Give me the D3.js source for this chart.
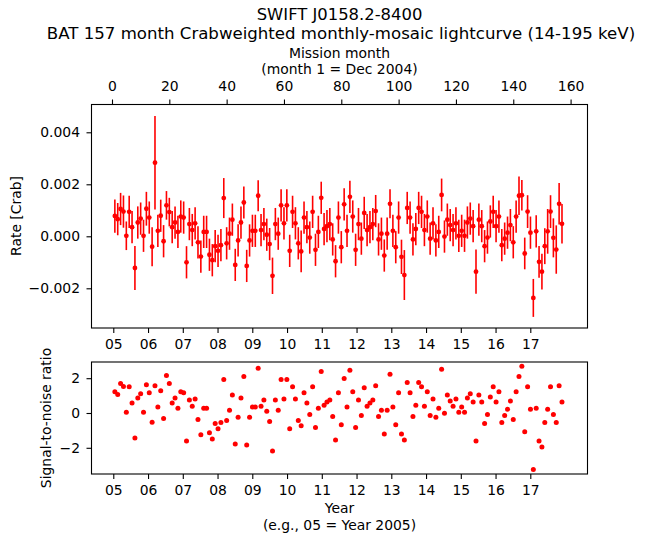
<!DOCTYPE html>
<html><head><meta charset="utf-8">
<script src="https://cdn.jsdelivr.net/npm/d3@7"></script>
<style>html,body{margin:0;padding:0;background:#fff;} svg{display:block;font-family:"DejaVu Sans",sans-serif;}</style>
</head><body>
<script>
const months = d3.range(1, 158);
const rates = [0.00078,0.00066,0.00105,0.00095,0.00002,0.00094,0.00035,-0.00122,0.00053,0.00068,
0.00002,0.00106,0.00072,-0.00040,0.00283,0.00021,0.00079,-0.00019,0.00119,0.00093,
0.00035,0.00053,0.00017,0.00076,0.00072,-0.00100,0.00047,0.00024,0.00050,-0.00023,
-0.00078,0.00017,0.00017,-0.00071,-0.00092,-0.00038,-0.00056,-0.00034,0.00147,-0.00027,
0.00010,0.00064,-0.00110,-0.00016,0.00053,0.00130,-0.00114,-0.00016,0.00021,0.00021,
0.00156,0.00024,0.00047,0.00006,-0.00030,-0.00152,0.00047,0.00010,0.00119,0.00050,
0.00119,-0.00056,0.00094,0.00050,-0.00027,-0.00058,0.00072,0.00035,-0.00005,0.00094,
-0.00052,0.00017,0.00148,0.00028,0.00039,0.00047,-0.00012,-0.00096,0.00072,-0.00042,
0.00123,0.00021,0.00152,0.00076,-0.00052,0.00047,-0.00009,0.00090,0.00024,0.00035,
0.00047,0.00097,-0.00012,0.00010,-0.00074,0.00010,0.00125,0.00021,-0.00042,0.00072,
-0.00079,-0.00149,0.00109,0.00072,-0.00012,0.00028,0.00109,0.00094,0.00024,0.00076,
-0.00009,0.00050,-0.00016,0.00017,0.00159,-0.00001,0.00064,0.00043,0.00024,0.00050,
0.00002,0.00021,0.00002,0.00053,0.00068,0.00039,-0.00136,0.00064,0.00039,-0.00038,
-0.00005,0.00057,0.00094,0.00039,0.00076,-0.00034,-0.00009,0.00014,0.00043,-0.00023,
0.00076,0.00156,0.00158,-0.00066,0.00095,0.00014,-0.00237,0.00019,-0.00098,-0.00136,
-0.00038,0.00019,0.00095,-0.00006,-0.00051,0.00125,0.00048];
const errors = [0.00064,0.00062,0.00062,0.00062,0.00055,0.00062,0.00062,0.00085,0.00062,0.00062,
0.00062,0.00065,0.00062,0.00075,0.00180,0.00062,0.00062,0.00062,0.00055,0.00055,
0.00062,0.00062,0.00062,0.00062,0.00062,0.00062,0.00062,0.00062,0.00062,0.00062,
0.00062,0.00062,0.00062,0.00062,0.00062,0.00062,0.00062,0.00062,0.00077,0.00062,
0.00062,0.00062,0.00062,0.00062,0.00062,0.00062,0.00062,0.00062,0.00062,0.00062,
0.00060,0.00062,0.00062,0.00062,0.00062,0.00070,0.00062,0.00062,0.00062,0.00062,
0.00062,0.00062,0.00062,0.00062,0.00062,0.00080,0.00062,0.00062,0.00062,0.00062,
0.00062,0.00062,0.00062,0.00062,0.00062,0.00062,0.00062,0.00062,0.00062,0.00062,
0.00062,0.00062,0.00062,0.00062,0.00062,0.00062,0.00062,0.00062,0.00062,0.00062,
0.00062,0.00062,0.00062,0.00062,0.00062,0.00062,0.00056,0.00062,0.00062,0.00062,
0.00066,0.00096,0.00062,0.00062,0.00062,0.00062,0.00062,0.00062,0.00062,0.00062,
0.00062,0.00062,0.00062,0.00062,0.00063,0.00062,0.00062,0.00062,0.00062,0.00062,
0.00062,0.00062,0.00062,0.00062,0.00062,0.00062,0.00085,0.00062,0.00062,0.00062,
0.00062,0.00062,0.00062,0.00062,0.00062,0.00062,0.00062,0.00062,0.00062,0.00062,
0.00062,0.00074,0.00059,0.00061,0.00063,0.00062,0.00073,0.00062,0.00061,0.00069,
0.00069,0.00086,0.00063,0.00075,0.00093,0.00080,0.00076];
const snr = [1.22,1.06,1.69,1.53,0.04,1.51,0.57,-1.43,0.86,1.10,
0.04,1.63,1.16,-0.53,1.57,0.34,1.28,-0.31,2.16,1.69,
0.57,0.86,0.28,1.22,1.16,-1.61,0.75,0.39,0.81,-0.37,
-1.25,0.28,0.28,-1.14,-1.49,-0.61,-0.90,-0.55,1.92,-0.43,
0.16,1.04,-1.78,-0.25,0.86,2.10,-1.84,-0.25,0.34,0.34,
2.57,0.39,0.75,0.10,-0.49,-2.19,0.75,0.16,1.92,0.81,
1.92,-0.90,1.51,0.81,-0.43,-0.73,1.16,0.57,-0.08,1.51,
-0.84,0.28,2.39,0.45,0.63,0.75,-0.20,-1.55,1.16,-0.67,
1.98,0.34,2.45,1.22,-0.84,0.75,-0.14,1.45,0.39,0.57,
0.75,1.57,-0.20,0.16,-1.20,0.16,2.22,0.34,-0.67,1.16,
-1.20,-1.55,1.75,1.16,-0.20,0.45,1.75,1.51,0.39,1.22,
-0.14,0.81,-0.25,0.28,2.51,-0.02,1.04,0.69,0.39,0.81,
0.04,0.34,0.04,0.86,1.10,0.63,-1.61,1.04,0.63,-0.61,
-0.08,0.92,1.51,0.63,1.22,-0.55,-0.14,0.22,0.69,-0.37,
1.22,2.10,2.69,-1.08,1.51,0.22,-3.25,0.28,-1.61,-1.96,
-0.55,0.22,1.51,-0.08,-0.55,1.57,0.63];
const monthTicks = [0,20,40,60,80,100,120,140,160];
const yearTicks = [2005,2006,2007,2008,2009,2010,2011,2012,2013,2014,2015,2016,2017];
const rateTicks = [-0.002,0,0.002,0.004];
const snrTicks = [-2,0,2];

const W = 646, H = 543;
const L = 91.5, R = 587.5;
const svg = d3.select("body").append("svg").attr("width", W).attr("height", H);
const red = "#ff0000";

const xM = d3.scaleLinear().domain([-7.15, 165.9]).range([L, R]);
const xY = d3.scaleLinear().domain([2004.373, 2018.646]).range([L, R]);
const yR = d3.scaleLinear().domain([-0.003527, 0.005069]).range([328, 104.5]);
const yS = d3.scaleLinear().domain([-3.506, 2.931]).range([474, 362]);

const fs = 13.9;
function styleAxis(g){
  g.selectAll("path.domain").remove();
  g.selectAll(".tick line").attr("stroke","#000").attr("stroke-width",1.1);
  g.selectAll(".tick text").attr("fill","#000").style("font-size", fs+"px").style("font-family","DejaVu Sans");
}

// top panel
const gTop = svg.append("g");
const ptsTop = months.map((m,i)=>({m, r:rates[i], e:errors[i]}));
gTop.selectAll("line.err").data(ptsTop).enter().append("line")
  .attr("x1",d=>xM(d.m)).attr("x2",d=>xM(d.m))
  .attr("y1",d=>yR(d.r-d.e)).attr("y2",d=>yR(d.r+d.e))
  .attr("stroke",red).attr("stroke-width",1.6);
gTop.selectAll("circle").data(ptsTop).enter().append("circle")
  .attr("cx",d=>xM(d.m)).attr("cy",d=>yR(d.r)).attr("r",2.4).attr("fill",red);

svg.append("g").attr("transform",`translate(${L},0)`)
  .call(d3.axisLeft(yR).tickValues(rateTicks).tickFormat(d3.format(".3f")).tickSize(5).tickPadding(6.5)).call(styleAxis);
svg.append("g").attr("transform",`translate(0,104.5)`)
  .call(d3.axisTop(xM).tickValues(monthTicks).tickFormat(d3.format("d")).tickSize(5).tickPadding(8.5)).call(styleAxis);
svg.append("g").attr("transform",`translate(0,328)`)
  .call(d3.axisBottom(xY).tickValues(yearTicks).tickFormat(d=>String(d%100).padStart(2,"0")).tickSize(5).tickPadding(6)).call(styleAxis);
svg.append("rect").attr("x",L).attr("y",104.5).attr("width",R-L).attr("height",328-104.5)
  .attr("fill","none").attr("stroke","#000").attr("stroke-width",1.1);

// bottom panel
const gBot = svg.append("g");
gBot.selectAll("circle").data(months.map((m,i)=>({m, s:snr[i]}))).enter().append("circle")
  .attr("cx",d=>xM(d.m)).attr("cy",d=>yS(d.s)).attr("r",2.5).attr("fill",red);
svg.append("g").attr("transform",`translate(${L},0)`)
  .call(d3.axisLeft(yS).tickValues(snrTicks).tickFormat(d3.format("d")).tickSize(5).tickPadding(6.5)).call(styleAxis);
svg.append("g").attr("transform",`translate(0,474)`)
  .call(d3.axisBottom(xY).tickValues(yearTicks).tickFormat(d=>String(d%100).padStart(2,"0")).tickSize(5).tickPadding(6)).call(styleAxis);
svg.append("rect").attr("x",L).attr("y",362).attr("width",R-L).attr("height",474-362)
  .attr("fill","none").attr("stroke","#000").attr("stroke-width",1.1);

// texts
function txt(x,y,s,size,rot){
  const t = svg.append("text").attr("x",x).attr("y",y).attr("text-anchor","middle")
    .attr("dominant-baseline","middle").style("font-size",size+"px").attr("fill","#000").text(s);
  if(rot) t.attr("transform",`rotate(-90,${x},${y})`);
  return t;
}
txt(339.5,15,"SWIFT J0158.2-8400",16.4);
txt(341,34.5,"BAT 157 month Crabweighted monthly-mosaic lightcurve (14-195 keV)",16.6);
txt(339.5,54,"Mission month",13.9);
txt(339.5,70,"(month 1 = Dec 2004)",13.9);
txt(17,216,"Rate [Crab]",13.9,true);
txt(46.5,418,"Signal-to-noise ratio",13.9,true);
txt(339.5,509,"Year",13.9);
txt(339.5,525.5,"(e.g., 05 = Year 2005)",13.9);
</script>
</body></html>
